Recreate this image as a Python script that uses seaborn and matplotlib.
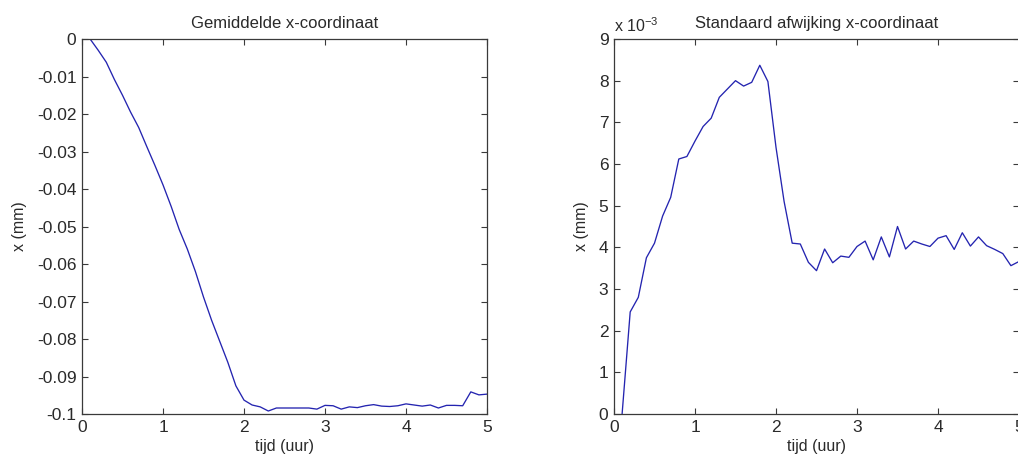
import numpy as np
import pandas as pd
import matplotlib
matplotlib.use("Agg")
import matplotlib.pyplot as plt
import seaborn as sns

# ---- data ----
tijd = [0.1, 0.2, 0.3, 0.4, 0.5, 0.6, 0.7, 0.8, 0.9, 1.0,
        1.1, 1.2, 1.3, 1.4, 1.5, 1.6, 1.7, 1.8, 1.9, 2.0,
        2.1, 2.2, 2.3, 2.4, 2.5, 2.6, 2.7, 2.8, 2.9, 3.0,
        3.1, 3.2, 3.3, 3.4, 3.5, 3.6, 3.7, 3.8, 3.9, 4.0,
        4.1, 4.2, 4.3, 4.4, 4.5, 4.6, 4.7, 4.8, 4.9, 5.0]

gemiddelde_x = [0.0, -0.0030, -0.0062, -0.0108, -0.0150, -0.0195, -0.0236, -0.0287, -0.0337, -0.0389,
                -0.0446, -0.0508, -0.0560, -0.0620, -0.0688, -0.0750, -0.0806, -0.0862, -0.0925, -0.0963,
                -0.0976, -0.0981, -0.0992, -0.0984, -0.0984, -0.0984, -0.0984, -0.0984, -0.0987, -0.0977,
                -0.0978, -0.0987, -0.0981, -0.0983, -0.0978, -0.0975, -0.0979, -0.0980, -0.0978, -0.0973,
                -0.0976, -0.0979, -0.0976, -0.0984, -0.0977, -0.0977, -0.0978, -0.0941, -0.0949, -0.0947]

# standard deviation in units of 1e-3 mm
std_x_e3 = [0.0, 2.45, 2.80, 3.75, 4.10, 4.75, 5.20, 6.12, 6.18, 6.55,
            6.90, 7.10, 7.60, 7.80, 8.00, 7.87, 7.96, 8.37, 7.98, 6.40,
            5.10, 4.10, 4.08, 3.64, 3.44, 3.96, 3.63, 3.79, 3.76, 4.02,
            4.15, 3.70, 4.25, 3.77, 4.50, 3.96, 4.15, 4.08, 4.02, 4.22,
            4.28, 3.95, 4.35, 4.03, 4.25, 4.04, 3.95, 3.85, 3.56, 3.66]

x_ticks = [0, 1, 2, 3, 4, 5]
left_yticks = [-0.1, -0.09, -0.08, -0.07, -0.06, -0.05, -0.04, -0.03, -0.02, -0.01, 0]
left_yticklabels = ['-0.1', '-0.09', '-0.08', '-0.07', '-0.06', '-0.05', '-0.04',
                    '-0.03', '-0.02', '-0.01', '0']
right_yticks = [0, 1, 2, 3, 4, 5, 6, 7, 8, 9]
right_yticklabels = ['0', '1', '2', '3', '4', '5', '6', '7', '8', '9']

titles = ['Gemiddelde x-coordinaat', 'Standaard afwijking x-coordinaat']
xlabel = 'tijd (uur)'
ylabel = 'x (mm)'

# ---- style ----
sns.set_style("ticks")
plt.rcParams['font.family'] = ['Liberation Sans', 'DejaVu Sans']
plt.rcParams['axes.unicode_minus'] = False
FS_TICK = 12.5
FS_TEXT = 12
line_color = '#2424b0'
spine_color = '#3a3a3a'
text_color = '#2a2a2a'

fig = plt.figure(figsize=(10.18, 4.61), dpi=100)
ax1 = fig.add_axes([82 / 1018, 47 / 461, 405 / 1018, 375 / 461])
ax2 = fig.add_axes([614 / 1018, 47 / 461, 405 / 1018, 375 / 461])

df = pd.DataFrame({'tijd': tijd, 'gem': gemiddelde_x, 'std': std_x_e3})

sns.lineplot(data=df, x='tijd', y='gem', ax=ax1, color=line_color, linewidth=0.95)
sns.lineplot(data=df, x='tijd', y='std', ax=ax2, color=line_color, linewidth=0.95)

for ax, title in zip((ax1, ax2), titles):
    ax.set_xlim(0, 5)
    ax.set_xticks(x_ticks)
    ax.set_xticklabels([str(v) for v in x_ticks])
    ax.set_title(title, fontsize=FS_TEXT, color=text_color, pad=8)
    ax.set_xlabel(xlabel, fontsize=FS_TEXT - 0.5, color=text_color, labelpad=3)
    ax.set_ylabel(ylabel, fontsize=FS_TEXT - 0.5, color=text_color, labelpad=7)
    ax.tick_params(direction='in', top=True, right=True, length=4, width=0.8,
                   labelsize=FS_TICK, colors=spine_color, labelcolor=text_color, pad=4)
    for s in ax.spines.values():
        s.set_visible(True)
        s.set_color(spine_color)
        s.set_linewidth(0.9)

ax1.set_ylim(-0.1, 0)
ax1.set_yticks(left_yticks)
ax1.set_yticklabels(left_yticklabels)

ax2.set_ylim(0, 9)
ax2.set_yticks(right_yticks)
ax2.set_yticklabels(right_yticklabels)
ax2.text(0.0, 1.012, r'x 10$^{\mathregular{-3}}$', transform=ax2.transAxes,
         fontsize=FS_TEXT - 0.5, color=text_color, ha='left', va='bottom')

fig.savefig('out.png', dpi=100, facecolor='white')
